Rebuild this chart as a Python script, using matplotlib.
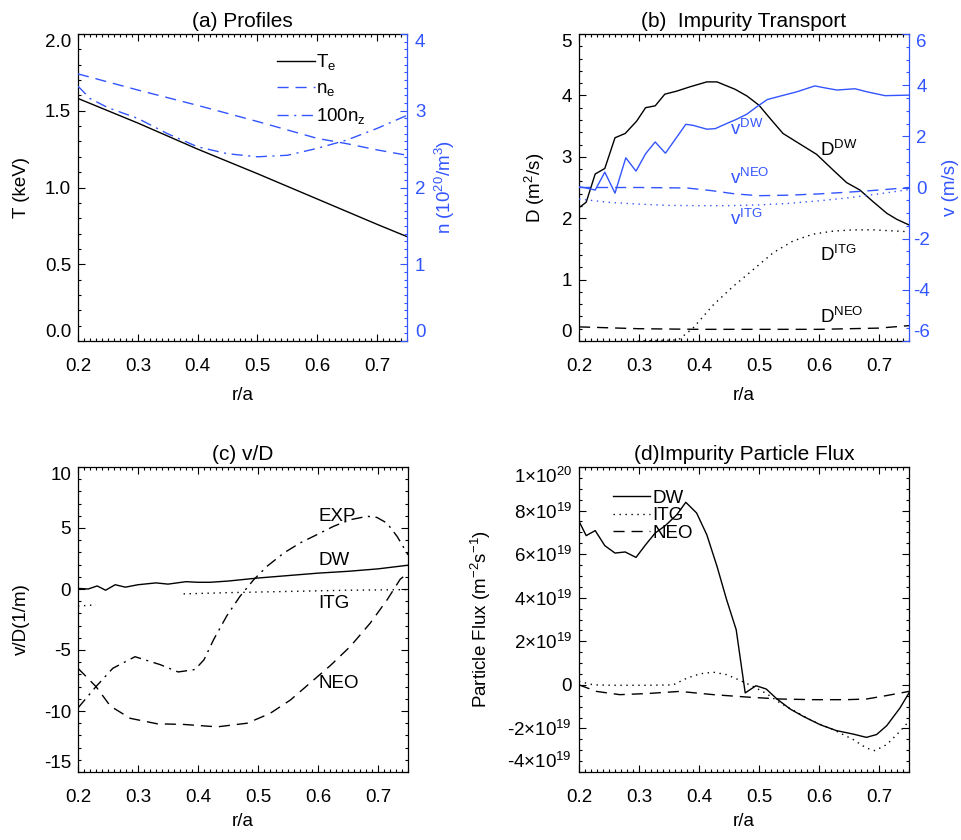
import numpy as np
import matplotlib
matplotlib.use("Agg")
import matplotlib.pyplot as plt
from matplotlib.ticker import MultipleLocator, FuncFormatter, FormatStrFormatter

plt.rcParams['font.family'] = ['Liberation Sans', 'DejaVu Sans']
plt.rcParams['mathtext.default'] = 'regular'
plt.rcParams['axes.unicode_minus'] = False
plt.rcParams['lines.scale_dashes'] = False
FS = 13.5
TFS = 15
BLUE = '#3355ff'

# ---------------- data ----------------
# (a) profiles
x_te = [0.2, 0.3, 0.4, 0.5, 0.6, 0.7, 0.75]
te = [1.58, 1.42, 1.25, 1.09, 0.925, 0.76, 0.68]
x_ne = [0.2, 0.3, 0.4, 0.5, 0.6, 0.65, 0.7, 0.75]
ne = [3.48, 3.27, 3.07, 2.86, 2.64, 2.57, 2.49, 2.42]
x_nz = [0.2, 0.22, 0.25, 0.3, 0.35, 0.4, 0.45, 0.5, 0.55, 0.6, 0.65, 0.7, 0.75]
nz100 = [3.32, 3.16, 3.04, 2.90, 2.70, 2.53, 2.44, 2.40, 2.42, 2.51, 2.62, 2.77, 2.94]

# (b) transport
x_ddw = [0.2, 0.212, 0.227, 0.243, 0.26, 0.277, 0.296, 0.311, 0.327, 0.343, 0.363,
         0.385, 0.413, 0.43, 0.46, 0.48, 0.5, 0.518, 0.54, 0.563, 0.596, 0.624,
         0.646, 0.668, 0.69, 0.713, 0.73, 0.75]
d_dw = [2.17, 2.26, 2.72, 2.81, 3.31, 3.38, 3.58, 3.80, 3.83, 4.02, 4.07,
        4.14, 4.22, 4.22, 4.10, 3.99, 3.84, 3.63, 3.38, 3.24, 3.04, 2.78,
        2.58, 2.46, 2.27, 2.08, 1.98, 1.89]
x_vdw = [0.2, 0.212, 0.227, 0.243, 0.26, 0.278, 0.295, 0.311, 0.327, 0.344, 0.363,
         0.378, 0.39, 0.413, 0.427, 0.446, 0.463, 0.48, 0.496, 0.514, 0.535, 0.563,
         0.593, 0.613, 0.63, 0.66, 0.68, 0.71, 0.75]
v_dw = [0.03, -0.02, -0.10, 0.60, -0.22, 1.16, 0.64, 1.32, 1.78, 1.34, 1.97,
        2.47, 2.43, 2.28, 2.30, 2.50, 2.67, 2.87, 3.15, 3.44, 3.57, 3.74,
        3.97, 3.88, 3.81, 3.86, 3.74, 3.59, 3.61]
x_vneo = [0.2, 0.3, 0.38, 0.42, 0.46, 0.5, 0.55, 0.6, 0.65, 0.7, 0.75]
v_neo = [0.0, 0.0, -0.02, -0.12, -0.25, -0.32, -0.30, -0.25, -0.18, -0.10, 0.0]
x_vitg = [0.2, 0.25, 0.3, 0.35, 0.4, 0.45, 0.5, 0.55, 0.6, 0.65, 0.7, 0.75]
v_itg = [-0.45, -0.58, -0.65, -0.70, -0.71, -0.71, -0.68, -0.62, -0.52, -0.40, -0.25, -0.08]
x_ditg = [0.2, 0.25, 0.3, 0.34, 0.366, 0.39, 0.424, 0.457, 0.49, 0.524, 0.557,
          0.59, 0.624, 0.657, 0.69, 0.75]
d_itg = [-0.2, -0.1, 0.0, 0.01, 0.02, 0.21, 0.59, 0.89, 1.16, 1.44, 1.63,
         1.74, 1.79, 1.81, 1.81, 1.78]
x_dneo = [0.2, 0.3, 0.4, 0.5, 0.6, 0.7, 0.75]
d_neo = [0.23, 0.20, 0.19, 0.19, 0.19, 0.21, 0.25]

# (c) v/D
x_vd_dw = [0.2, 0.217, 0.232, 0.246, 0.262, 0.279, 0.3, 0.33, 0.35, 0.38, 0.4,
           0.42, 0.45, 0.5, 0.55, 0.6, 0.65, 0.7, 0.75]
vd_dw = [0.05, 0.0, 0.25, -0.1, 0.35, 0.15, 0.35, 0.5, 0.4, 0.6, 0.55,
         0.55, 0.65, 0.9, 1.1, 1.3, 1.45, 1.65, 1.95]
x_vd_itg = [0.2, 0.215, 0.23, 0.3, 0.376, 0.45, 0.55, 0.65, 0.75]
vd_itg = [-1.4, -1.35, -1.3, np.nan, -0.4, -0.3, -0.2, -0.1, -0.05]
x_vd_neo = [0.2, 0.23, 0.254, 0.287, 0.332, 0.376, 0.432, 0.482, 0.52, 0.554,
            0.587, 0.62, 0.654, 0.687, 0.715, 0.737, 0.75]
vd_neo = [-6.5, -8.0, -9.6, -10.6, -11.05, -11.1, -11.3, -11.0, -10.2, -9.1,
          -7.7, -6.3, -4.7, -2.8, -0.9, 0.8, 1.3]
x_vd_exp = [0.2, 0.23, 0.258, 0.295, 0.337, 0.367, 0.395, 0.41, 0.426, 0.448,
            0.47, 0.493, 0.515, 0.543, 0.57, 0.598, 0.626, 0.654, 0.682, 0.698,
            0.715, 0.732, 0.75]
vd_exp = [-9.75, -8.0, -6.5, -5.55, -6.2, -6.8, -6.6, -5.8, -4.15, -2.2,
          -0.6, 0.77, 1.86, 2.95, 3.77, 4.45, 5.14, 5.68, 5.96, 5.87,
          5.4, 4.3, 2.8]

# (d) flux (units of 1e19 m^-2 s^-1)
x_f_dw = [0.2, 0.212, 0.227, 0.243, 0.26, 0.277, 0.295, 0.311, 0.327, 0.344, 0.363,
          0.378, 0.396, 0.413, 0.43, 0.446, 0.462, 0.477, 0.495, 0.512, 0.53, 0.552,
          0.574, 0.602, 0.629, 0.657, 0.679, 0.696, 0.713, 0.735, 0.75]
f_dw = [7.51, 6.85, 7.08, 6.39, 6.05, 6.10, 5.85, 6.43, 6.97, 7.31, 7.81,
        8.38, 7.89, 6.89, 5.44, 3.91, 2.53, -0.37, -0.04, -0.19, -0.65, -1.11,
        -1.45, -1.83, -2.10, -2.26, -2.41, -2.28, -1.87, -1.06, -0.37]
x_f_itg = [0.2, 0.224, 0.257, 0.313, 0.357, 0.38, 0.402, 0.424, 0.446, 0.468,
           0.49, 0.513, 0.535, 0.563, 0.59, 0.624, 0.657, 0.679, 0.693, 0.713,
           0.735, 0.75]
f_itg = [0.16, 0.0, -0.02, -0.02, 0.0, 0.31, 0.51, 0.58, 0.47, 0.21,
         -0.07, -0.41, -0.83, -1.26, -1.67, -2.06, -2.51, -2.90, -3.02, -2.74,
         -2.13, -1.67]
x_f_neo = [0.2, 0.229, 0.268, 0.313, 0.368, 0.424, 0.48, 0.535, 0.59, 0.646,
           0.679, 0.713, 0.75]
f_neo = [0.0, -0.30, -0.45, -0.40, -0.30, -0.45, -0.56, -0.65, -0.68, -0.68,
         -0.65, -0.49, -0.30]

x_ticks = [0.2, 0.3, 0.4, 0.5, 0.6, 0.7]

# ---------------- styles ----------------
LW = 1.0
SOLID = '-'
DASH = (0, (8, 5))
DOT = (0, (1, 3.3))
DASHDOT = (0, (8, 4, 1.5, 4))

fig = plt.figure(figsize=(9.62, 8.4), dpi=100)
W, H = 962.0, 840.0


def make_ax(l, t, r, b):
    return fig.add_axes([l / W, 1 - b / H, (r - l) / W, (b - t) / H])


def base_style(ax, right_ticks=True):
    ax.set_xlim(0.2, 0.75)
    ax.set_xticks(x_ticks)
    ax.xaxis.set_major_formatter(FormatStrFormatter('%.1f'))
    ax.xaxis.set_minor_locator(MultipleLocator(0.01))
    ax.tick_params(which='both', direction='in', top=True, right=right_ticks,
                   labelsize=FS, width=0.8, color='black')
    ax.tick_params(which='major', length=5)
    ax.tick_params(which='minor', length=2.3)
    ax.tick_params(axis='x', which='major', pad=12.5)
    ax.tick_params(axis='y', which='major', pad=5)
    for s in ax.spines.values():
        s.set_linewidth(0.9)
    ax.set_xlabel('r/a', fontsize=FS)


def end_align(axis_obj, first='bottom', last='top', which=1):
    ticks = axis_obj.get_major_ticks()
    lab = (lambda t: t.label1) if which == 1 else (lambda t: t.label2)
    lab(ticks[0]).set_va(first)
    lab(ticks[-1]).set_va(last)


def right_blue(ax2, pad):
    ax2.tick_params(axis='y', which='both', direction='in', colors=BLUE,
                    left=False, right=True, labelsize=FS, width=0.8)
    ax2.tick_params(axis='y', which='major', length=5, pad=pad)
    ax2.tick_params(axis='y', which='minor', length=2.3)
    ax2.tick_params(axis='x', which='both', bottom=False, top=False,
                    labelbottom=False, labeltop=False)
    for k in ['left', 'top', 'bottom']:
        ax2.spines[k].set_visible(False)
    ax2.spines['right'].set_color(BLUE)
    ax2.spines['right'].set_linewidth(0.9)


# ---------------- (a) ----------------
axa = make_ax(78, 34, 407, 341)
base_style(axa, right_ticks=False)
axa.spines['right'].set_visible(False)
axa.set_ylim(0, 2.0)
axa.set_yticks([0.0, 0.5, 1.0, 1.5, 2.0])
axa.yaxis.set_major_formatter(FormatStrFormatter('%.1f'))
axa.yaxis.set_minor_locator(MultipleLocator(0.1))
axa.set_title('(a) Profiles', fontsize=TFS, pad=5)
axa.set_ylabel('T (keV)', fontsize=FS)
axa.yaxis.set_label_coords(-0.146, 0.5)
axa.xaxis.set_label_coords(0.5, -0.15)
l1, = axa.plot(x_te, te, color='black', lw=LW, ls=SOLID)

axa2 = axa.twinx()
axa2.set_position(axa.get_position())
right_blue(axa2, pad=9.5)
axa2.set_xlim(0.2, 0.75)
axa2.set_ylim(0, 4)
axa2.set_yticks([0, 1, 2, 3, 4])
axa2.yaxis.set_major_formatter(FormatStrFormatter('%d'))
axa2.yaxis.set_minor_locator(MultipleLocator(0.1))
l2, = axa2.plot(x_ne, ne, color=BLUE, lw=LW, ls=DASH)
l3, = axa2.plot(x_nz, nz100, color=BLUE, lw=LW, ls=DASHDOT)
axa2.set_ylabel('n (10$^{20}$/m$^{3}$)', fontsize=FS, color=BLUE)
axa2.yaxis.set_label_coords(1.079, 0.5)
leg = axa2.legend([l1, l2, l3], ['T$_{e}$', 'n$_{e}$', '100n$_{z}$'],
                  loc='upper left', bbox_to_anchor=(0.605, 0.94), frameon=False,
                  fontsize=FS, handlelength=2.0, handletextpad=0.1,
                  labelspacing=0.42, borderpad=0, borderaxespad=0)

# ---------------- (b) ----------------
axb = make_ax(579, 34, 909, 341)
base_style(axb, right_ticks=False)
axb.spines['right'].set_visible(False)
axb.set_ylim(0, 5)
axb.set_yticks([0, 1, 2, 3, 4, 5])
axb.yaxis.set_major_formatter(FormatStrFormatter('%d'))
axb.yaxis.set_minor_locator(MultipleLocator(0.2))
axb.set_title('(b)  Impurity Transport', fontsize=TFS, pad=5)
axb.set_ylabel('D (m$^{2}$/s)', fontsize=FS)
axb.yaxis.set_label_coords(-0.097, 0.5)
axb.xaxis.set_label_coords(0.5, -0.15)
axb.plot(x_ddw, d_dw, color='black', lw=LW, ls=SOLID)
axb.plot(x_ditg, d_itg, color='black', lw=LW, ls=DOT)
axb.plot(x_dneo, d_neo, color='black', lw=LW, ls=DASH)

axb2 = axb.twinx()
axb2.set_position(axb.get_position())
right_blue(axb2, pad=9)
axb2.set_xlim(0.2, 0.75)
axb2.set_ylim(-6, 6)
axb2.set_yticks([-6, -4, -2, 0, 2, 4, 6])
axb2.yaxis.set_major_formatter(FormatStrFormatter('%d'))
axb2.yaxis.set_minor_locator(MultipleLocator(0.5))
axb2.plot(x_vdw, v_dw, color=BLUE, lw=LW, ls=SOLID)
axb2.plot(x_vneo, v_neo, color=BLUE, lw=LW, ls=DASH)
axb2.plot(x_vitg, v_itg, color=BLUE, lw=LW, ls=DOT)
axb2.set_ylabel('v (m/s)', fontsize=FS, color=BLUE)
axb2.yaxis.set_label_coords(1.10, 0.5)

axb.text(0.452, 3.35, 'v$^{DW}$', color=BLUE, fontsize=FS, va='baseline')
axb.text(0.452, 2.56, 'v$^{NEO}$', color=BLUE, fontsize=FS, va='baseline')
axb.text(0.452, 1.885, 'v$^{ITG}$', color=BLUE, fontsize=FS, va='baseline')
axb.text(0.602, 3.02, 'D$^{DW}$', color='black', fontsize=FS, va='baseline')
axb.text(0.602, 1.30, 'D$^{ITG}$', color='black', fontsize=FS, va='baseline')
axb.text(0.602, 0.30, 'D$^{NEO}$', color='black', fontsize=FS, va='baseline')

# ---------------- (c) ----------------
axc = make_ax(78, 467, 408, 772)
base_style(axc)
axc.set_ylim(-15, 10)
axc.set_yticks([-15, -10, -5, 0, 5, 10])
axc.yaxis.set_major_formatter(FormatStrFormatter('%d'))
axc.yaxis.set_minor_locator(MultipleLocator(1))
axc.set_title('(c) v/D', fontsize=TFS, pad=5)
axc.set_ylabel('v/D(1/m)', fontsize=FS)
axc.yaxis.set_label_coords(-0.145, 0.5)
axc.xaxis.set_label_coords(0.5, -0.134)
axc.plot(x_vd_dw, vd_dw, color='black', lw=LW, ls=SOLID)
axc.plot(x_vd_itg, vd_itg, color='black', lw=LW, ls=DOT)
axc.plot(x_vd_neo, vd_neo, color='black', lw=LW, ls=DASH)
axc.plot(x_vd_exp, vd_exp, color='black', lw=LW, ls=DASHDOT)
axc.text(0.601, 5.55, 'EXP', fontsize=FS, va='baseline')
axc.text(0.601, 2.0, 'DW', fontsize=FS, va='baseline')
axc.text(0.601, -1.56, 'ITG', fontsize=FS, va='baseline')
axc.text(0.601, -8.1, 'NEO', fontsize=FS, va='baseline')

# ---------------- (d) ----------------
axd = make_ax(579, 467, 909, 772)
base_style(axd)
axd.set_ylim(-4, 10)
axd.set_yticks([-4, -2, 0, 2, 4, 6, 8, 10])
axd.yaxis.set_minor_locator(MultipleLocator(0.5))


def flux_fmt(v, pos):
    if abs(v) < 1e-9:
        return '0'
    val = v * 1e19
    e = int(np.floor(np.log10(abs(val)) + 1e-9))
    m = int(round(abs(val) / 10 ** e))
    sgn = '-' if val < 0 else ''
    return sgn + r'$%d{\times}10^{%d}$' % (m, e)


axd.yaxis.set_major_formatter(FuncFormatter(flux_fmt))
axd.set_title('(d)Impurity Particle Flux', fontsize=TFS, pad=5)
axd.set_ylabel('Particle Flux (m$^{-2}$s$^{-1}$)', fontsize=FS)
axd.yaxis.set_label_coords(-0.26, 0.5)
axd.xaxis.set_label_coords(0.5, -0.134)
d1, = axd.plot(x_f_dw, f_dw, color='black', lw=LW, ls=SOLID)
d2, = axd.plot(x_f_itg, f_itg, color='black', lw=LW, ls=DOT)
d3, = axd.plot(x_f_neo, f_neo, color='black', lw=LW, ls=DASH)
axd.legend([d1, d2, d3], ['DW', 'ITG', 'NEO'], loc='upper left',
           bbox_to_anchor=(0.103, 0.925), frameon=False, fontsize=FS,
           handlelength=2.0, handletextpad=0.1, labelspacing=0.02,
           borderpad=0, borderaxespad=0)

# align end tick labels inside the axis range (IDL style)
for a in [axa, axb, axc, axd]:
    end_align(a.yaxis)
end_align(axa2.yaxis, which=2)
end_align(axb2.yaxis, which=2)
for a in [axa2, axb2]:
    for t in a.yaxis.get_major_ticks():
        t.label2.set_ha('center')

fig.savefig('out.png', dpi=100)
